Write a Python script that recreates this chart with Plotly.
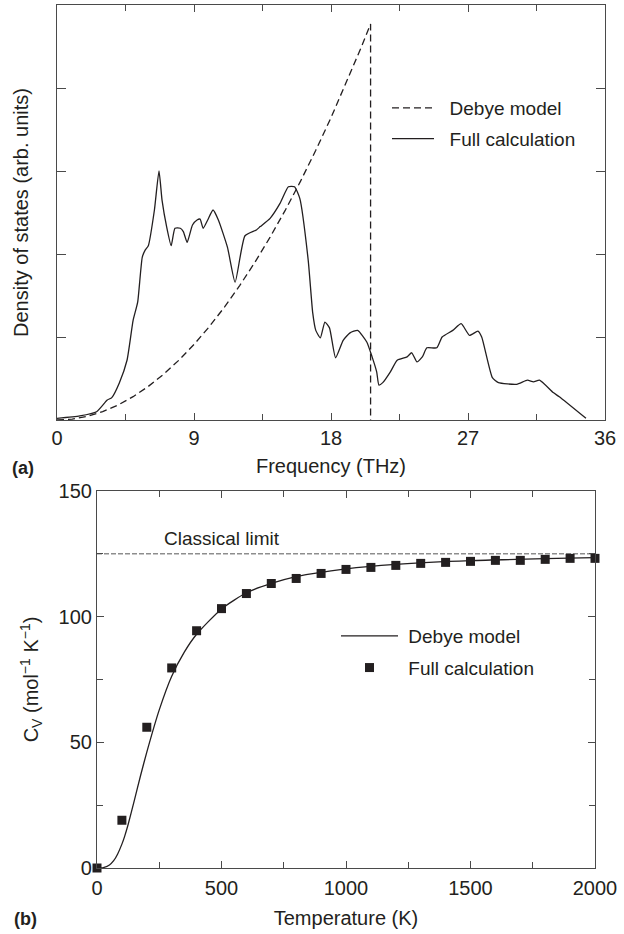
import plotly.graph_objects as go

# ---------------- Panel (a) data: phonon density of states ----------------
freq_full = [0, 1.5, 2.6, 3.3, 3.6, 4.1, 4.6, 5.0, 5.3, 5.6, 5.8, 6.0, 6.4, 6.7, 6.9,
             7.2, 7.5, 7.75, 8.1, 8.3, 8.55, 8.9, 9.2, 9.4, 9.6, 9.9, 10.25, 10.6,
             11.2, 11.7, 12.35, 13.1, 13.35, 14.0, 14.65, 15.2, 15.6, 15.95, 16.5,
             16.8, 17.0, 17.3, 17.6, 17.9, 18.3, 18.8, 19.25, 19.75, 20.35, 20.7,
             21.0, 21.15, 21.4, 21.9, 22.35, 23.0, 23.3, 23.65, 24.0, 24.3, 24.95,
             25.3, 26.0, 26.55, 27.1, 27.65, 27.9, 28.6, 29.0, 30.2, 30.9, 31.3,
             31.7, 32.6, 33.0, 34.75]
dos_full = [0.02, 0.05, 0.10, 0.24, 0.27, 0.45, 0.72, 1.20, 1.42, 1.96, 2.05, 2.10,
            2.53, 3.00, 2.65, 2.33, 2.10, 2.31, 2.31, 2.27, 2.14, 2.35, 2.41, 2.42,
            2.31, 2.41, 2.53, 2.41, 2.08, 1.66, 2.22, 2.29, 2.33, 2.43, 2.61, 2.81,
            2.81, 2.67, 1.93, 1.29, 1.08, 0.99, 1.18, 1.11, 0.75, 0.96, 1.05, 1.08,
            0.94, 0.76, 0.58, 0.42, 0.45, 0.58, 0.72, 0.76, 0.81, 0.70, 0.76, 0.87,
            0.87, 1.00, 1.08, 1.16, 1.02, 1.07, 1.00, 0.51, 0.45, 0.43, 0.48, 0.46,
            0.48, 0.33, 0.28, 0.02]

freq_debye = [0, 1, 2, 3, 4, 5, 6, 7, 8, 9, 10, 11, 12, 13, 14, 15, 16, 17, 18, 19,
              20, 20.6, 20.6]
dos_debye = [0, 0.011, 0.045, 0.101, 0.180, 0.281, 0.405, 0.551, 0.719, 0.910, 1.124,
             1.360, 1.619, 1.900, 2.203, 2.529, 2.878, 3.249, 3.642, 4.058, 4.496,
             4.77, 0]

freq_ticks = [0, 9, 18, 27, 36]

# ---------------- Panel (b) data: heat capacity ----------------
temp_debye = [0, 25, 50, 67, 83, 100, 111, 125, 150, 175, 200, 250, 300, 350, 400,
              500, 600, 700, 800, 1000, 1200, 1500, 2000]
cv_debye = [0, 0.15, 1.2, 2.9, 5.6, 9.5, 12.6, 17.3, 26.9, 36.8, 46.1, 62.9, 76.3,
            85.8, 93.0, 103.1, 109.5, 113.2, 115.9, 119.0, 120.8, 122.3, 123.5]

temp_full = [0, 100, 200, 300, 400, 500, 600, 700, 800, 900, 1000, 1100, 1200, 1300,
             1400, 1500, 1600, 1700, 1800, 1900, 2000]
cv_full = [0, 19, 56, 79.6, 94.4, 103.2, 109.2, 113.2, 115.2, 117.2, 118.8, 119.6,
           120.4, 121.2, 121.6, 122.0, 122.4, 122.4, 122.8, 123.2, 123.2]

temp_classical = [0, 2000]
cv_classical = [125, 125]

temp_ticks = [0, 500, 1000, 1500, 2000]
cv_ticks = [0, 50, 100, 150]

# ---------------- styling ----------------
INK = "#231f20"
AXIS = "#4a4a4a"
FONT = "Liberation Sans, Arial, sans-serif"
W, H = 624, 934
GAP2 = "\u00a0\u00a0"
GAP1 = "\u00a0"

fig = go.Figure()

fig.add_trace(go.Scatter(
    x=freq_debye, y=dos_debye, mode="lines", name=GAP2 + "Debye model",
    line=dict(color=INK, width=1.3, dash="7px,4px"),
    xaxis="x", yaxis="y", legend="legend", legendgroup="a1"))
fig.add_trace(go.Scatter(
    x=freq_full, y=dos_full, mode="lines", name=GAP2 + "Full calculation",
    line=dict(color=INK, width=1.3, shape="spline", smoothing=0.5),
    xaxis="x", yaxis="y", legend="legend", legendgroup="a2"))

fig.add_trace(go.Scatter(
    x=temp_classical, y=cv_classical, mode="lines", showlegend=False,
    line=dict(color="#555555", width=1.0, dash="5px,2px"),
    xaxis="x2", yaxis="y2"))
fig.add_trace(go.Scatter(
    x=temp_debye, y=cv_debye, mode="lines", name=GAP1 + "Debye model",
    line=dict(color=INK, width=1.3, shape="spline", smoothing=0.6),
    xaxis="x2", yaxis="y2", legend="legend2", legendgroup="b1"))
fig.add_trace(go.Scatter(
    x=temp_full, y=cv_full, mode="markers", name=GAP1 + "Full calculation",
    marker=dict(symbol="square", size=9, color=INK),
    cliponaxis=False,
    xaxis="x2", yaxis="y2", legend="legend2", legendgroup="b2"))

common_axis = dict(showline=True, linecolor=AXIS, linewidth=1.2, mirror="ticks",
                   ticks="inside", tickcolor=AXIS, tickwidth=1.0,
                   showgrid=False, zeroline=False, automargin=False,
                   tickfont=dict(family=FONT, size=20, color=INK))

fig.update_layout(
    width=W, height=H,
    margin=dict(l=0, r=0, t=0, b=0, pad=0, autoexpand=False),
    paper_bgcolor="white", plot_bgcolor="white",
    font=dict(family=FONT, size=19, color=INK),
    xaxis=dict(domain=[57 / W, 605 / W], anchor="y", range=[0, 36],
               tickvals=freq_ticks, ticklen=7,
               minor=dict(dtick=4.5, ticks="inside", ticklen=6, tickcolor=AXIS),
               title=dict(text="Frequency (THz)", font=dict(size=20), standoff=10),
               **common_axis),
    yaxis=dict(domain=[1 - 420 / H, 1 - 5 / H], anchor="x", range=[0, 5],
               tickvals=[1, 2, 3, 4], ticklen=9, showticklabels=False,
               title=dict(text="Density of states (arb. units)", font=dict(size=20),
                          standoff=21),
               **common_axis),
    xaxis2=dict(domain=[97 / W, 595 / W], anchor="y2", range=[0, 2000],
                tickvals=temp_ticks, ticklen=7, ticklabelstandoff=2,
                minor=dict(dtick=250, ticks="inside", ticklen=6, tickcolor=AXIS),
                title=dict(text="Temperature (K)", font=dict(size=20), standoff=12),
                **common_axis),
    yaxis2=dict(domain=[1 - 868 / H, 1 - 491 / H], anchor="x2", range=[0, 150],
                tickvals=cv_ticks, ticklen=7,
                minor=dict(dtick=25, ticks="inside", ticklen=6, tickcolor=AXIS),
                title=dict(text="C<sub>V</sub> (mol<sup>\u22121</sup> K<sup>\u22121</sup>)",
                           font=dict(size=20), standoff=14),
                **common_axis),
    legend=dict(x=387 / W, y=1 - 89 / H, xanchor="left", yanchor="top",
                bgcolor="rgba(0,0,0,0)", font=dict(size=19, color=INK),
                tracegroupgap=3, itemwidth=42),
    legend2=dict(x=336 / W, y=1 - 617 / H, xanchor="left", yanchor="top",
                 bgcolor="rgba(0,0,0,0)", font=dict(size=19, color=INK),
                 tracegroupgap=4, itemwidth=57),
    annotations=[
        dict(text="<b>(a)</b>", x=10 / W, y=1 - 468 / H, xref="paper", yref="paper",
             xanchor="left", yanchor="middle", showarrow=False,
             font=dict(size=18, color=INK)),
        dict(text="<b>(b)</b>", x=12 / W, y=1 - 919 / H, xref="paper", yref="paper",
             xanchor="left", yanchor="middle", showarrow=False,
             font=dict(size=18, color=INK)),
        dict(text="Classical limit", x=262, y=131, xref="x2", yref="y2",
             xanchor="left", yanchor="middle", showarrow=False,
             font=dict(size=19, color=INK)),
    ],
)

fig.write_html("out.html",
               config={"displayModeBar": False},
               post_script="document.body.style.margin='0px';"
                           "document.body.style.overflow='hidden';")
